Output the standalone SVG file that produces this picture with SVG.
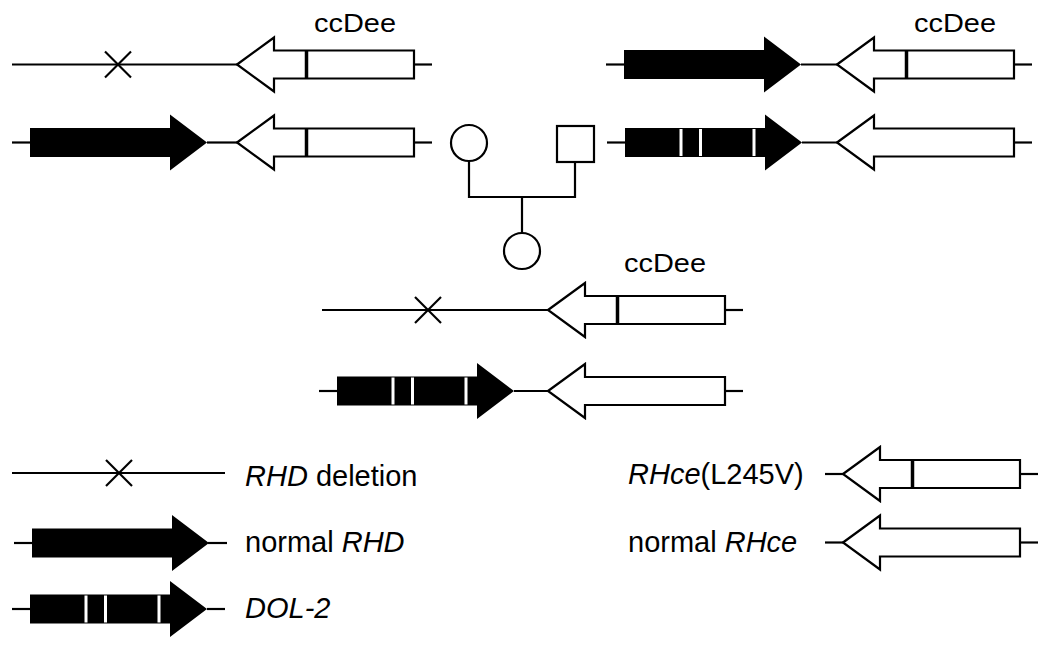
<svg xmlns="http://www.w3.org/2000/svg" width="1050" height="646" viewBox="0 0 1050 646">
<defs>
<style>
.ln{stroke:#000;stroke-width:2.2;fill:none}
.ce{fill:#fff;stroke:#000;stroke-width:2.2;stroke-linejoin:miter}
.bar{stroke:#000;stroke-width:3.5}
.d{fill:#000;stroke:none}
.st{fill:#fff}
.t{font-family:"Liberation Sans",Arial,sans-serif;font-size:29px;fill:#000}
.g{font-family:"Liberation Sans",Arial,sans-serif;font-size:25px;fill:#000}
.i{font-style:italic}
.ped{fill:#fff;stroke:#000;stroke-width:2.2}
</style>
<g id="rhce">
<line class="ln" x1="177" y1="0" x2="195" y2="0"/>
<polygon class="ce" points="0,0 37,-27 37,-14 177,-14 177,14 37,14 37,27"/>
</g>
<g id="rhceV">
<use href="#rhce"/>
<line class="bar" x1="69.5" y1="-14" x2="69.5" y2="14"/>
</g>
<g id="rhd">
<line class="ln" x1="-18" y1="0" x2="0" y2="0"/>
<polygon class="d" points="0,-14.5 140,-14.5 140,-28 177,0 140,28 140,14.5 0,14.5"/>
</g>
<g id="dol">
<use href="#rhd"/>
<rect class="st" x="54.5" y="-13.5" width="3" height="27"/>
<rect class="st" x="74" y="-13.5" width="3" height="27"/>
<rect class="st" x="127.5" y="-13.5" width="3" height="27"/>
</g>
<g id="del">
<line class="ln" x1="-13" y1="-13" x2="13" y2="13"/>
<line class="ln" x1="-13" y1="13" x2="13" y2="-13"/>
</g>
</defs>

<g id="connectors">
<line class="ln" x1="12" y1="64.5" x2="237" y2="64.5"/>
<line class="ln" x1="207" y1="142.5" x2="237" y2="142.5"/>
<line class="ln" x1="801" y1="64.5" x2="837" y2="64.5"/>
<line class="ln" x1="802" y1="142.5" x2="837" y2="142.5"/>
<line class="ln" x1="322" y1="310" x2="548" y2="310"/>
<line class="ln" x1="514" y1="391" x2="548" y2="391"/>
<line class="ln" x1="12" y1="473" x2="225" y2="473"/>
<line class="ln" x1="208" y1="543" x2="227" y2="543"/>
<line class="ln" x1="207" y1="609" x2="225" y2="609"/>
<line class="ln" x1="825" y1="474" x2="843" y2="474"/>
<line class="ln" x1="825" y1="542.5" x2="843" y2="542.5"/>
<polyline class="ln" points="469,161 469,197 575,197 575,162"/>
<line class="ln" x1="522" y1="197" x2="522" y2="233"/>
</g>

<g id="mother-hap1"><use href="#del" x="118" y="64.5"/><use href="#rhceV" x="237" y="64.5"/></g>
<g id="mother-hap2"><use href="#rhd" x="30" y="142.5"/><use href="#rhceV" x="237" y="142.5"/></g>
<text id="mother-label" class="g" x="314" y="31.5" textLength="82" lengthAdjust="spacingAndGlyphs">ccDee</text>

<g id="father-hap1"><use href="#rhd" x="624" y="64.5"/><use href="#rhceV" x="837" y="64.5"/></g>
<g id="father-hap2"><use href="#dol" x="625" y="142.5"/><use href="#rhce" x="837" y="142.5"/></g>
<text id="father-label" class="g" x="914" y="31.5" textLength="82" lengthAdjust="spacingAndGlyphs">ccDee</text>

<g id="child-hap1"><use href="#del" x="428" y="310"/><use href="#rhceV" x="548" y="310"/></g>
<g id="child-hap2"><use href="#dol" x="337" y="391"/><use href="#rhce" x="548" y="391"/></g>
<text id="child-label" class="g" x="624" y="271.5" textLength="82" lengthAdjust="spacingAndGlyphs">ccDee</text>

<g id="pedigree-mother"><circle class="ped" cx="469" cy="143" r="18"/></g>
<g id="pedigree-father"><rect class="ped" x="557" y="126" width="37" height="36"/></g>
<g id="pedigree-child"><circle class="ped" cx="522" cy="251" r="18"/></g>

<g id="legend-deletion"><use href="#del" x="119" y="473"/>
<text class="t" x="245" y="486"><tspan class="i">RHD</tspan> deletion</text></g>
<g id="legend-rhd"><use href="#rhd" x="32" y="543"/>
<text class="t" x="245" y="552">normal <tspan class="i">RHD</tspan></text></g>
<g id="legend-dol"><use href="#dol" x="30" y="609"/>
<text class="t i" x="245" y="618">DOL-2</text></g>
<g id="legend-rhcev"><use href="#rhceV" x="843" y="474"/>
<text class="t" x="628" y="484"><tspan class="i">RHce</tspan>(L245V)</text></g>
<g id="legend-rhce"><use href="#rhce" x="843" y="542.5"/>
<text class="t" x="628" y="552">normal <tspan class="i">RHce</tspan></text></g>
</svg>
